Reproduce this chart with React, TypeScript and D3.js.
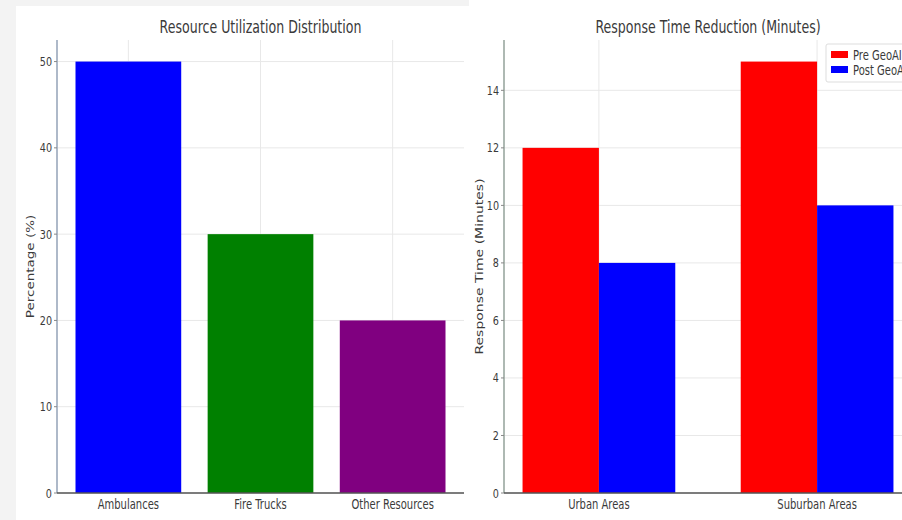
import React from "react";
import * as d3 from "d3";

// Resource utilization (left panel)
const resourceCategories = ["Ambulances", "Fire Trucks", "Other Resources"];
const resourceShares = [50, 30, 20];
const resourceColors = ["#0000ff", "#008000", "#800080"];
const shareTicks = [0, 10, 20, 30, 40, 50];

// Response time before / after GeoAI (right panel)
const areaCategories = ["Urban Areas", "Suburban Areas"];
const preGeoAI = [12, 15];
const postGeoAI = [8, 10];
const seriesNames = ["Pre GeoAI", "Post GeoAI"];
const seriesColors = ["#ff0000", "#0000ff"];
const minuteTicks = [0, 2, 4, 6, 8, 10, 12, 14];

const W = 902;
const H = 520;
const SX = 0.74; // horizontal squeeze applied to all glyphs
const FONT = "'DejaVu Sans', sans-serif";
const TEXT = "#3a3a3a";
const GRID = "#e8e8e8";

type TProps = {
  x: number;
  y: number;
  size: number;
  anchor?: "start" | "middle" | "end";
  vertical?: boolean;
  fill?: string;
  baseline?: string;
  children: React.ReactNode;
};

function T({ x, y, size, anchor = "middle", vertical = false, fill = TEXT, baseline, children }: TProps) {
  const tf = vertical
    ? `translate(${x},${y}) rotate(-90) scale(1,${SX})`
    : `translate(${x},${y}) scale(${SX},1)`;
  return (
    <text
      transform={tf}
      fontSize={size}
      fontFamily={FONT}
      textAnchor={anchor}
      dominantBaseline={baseline}
      fill={fill}
    >
      {children}
    </text>
  );
}

const top = 40;
const bottom = 493;

function ResourcePanel() {
  const x = d3.scaleLinear().domain([-0.54, 2.54]).range([57, 464]);
  const y = d3.scaleLinear().domain([0, 52.5]).range([bottom, top]);
  const bw = x(0.4) - x(-0.4);
  const [x0, x1] = x.range();
  return (
    <g>
      {shareTicks.map((t) => (
        <line key={"h" + t} x1={x0} x2={x1} y1={y(t)} y2={y(t)} stroke={GRID} strokeWidth={1} />
      ))}
      {resourceCategories.map((c, i) => (
        <line key={"v" + c} x1={x(i)} x2={x(i)} y1={top} y2={bottom} stroke={GRID} strokeWidth={1} />
      ))}
      {resourceCategories.map((c, i) => (
        <rect
          key={c}
          x={x(i) - bw / 2}
          y={y(resourceShares[i])}
          width={bw}
          height={y(0) - y(resourceShares[i])}
          fill={resourceColors[i]}
        />
      ))}
      <line x1={x0} x2={x0} y1={top} y2={bottom} stroke="#9aa8bc" strokeWidth={1.6} />
      <line x1={x0} x2={x1} y1={bottom} y2={bottom} stroke="#555" strokeWidth={1.3} />
      {shareTicks.map((t) => (
        <g key={"t" + t}>
          <line x1={x0 - 3} x2={x0} y1={y(t)} y2={y(t)} stroke="#888" strokeWidth={1} />
          <T x={x0 - 5} y={y(t)} size={13} anchor="end" baseline="central">
            {t}
          </T>
        </g>
      ))}
      {resourceCategories.map((c, i) => (
        <T key={"l" + c} x={x(i)} y={509} size={13.5}>
          {c}
        </T>
      ))}
      <T x={(x0 + x1) / 2} y={33} size={17}>
        Resource Utilization Distribution
      </T>
      <T x={34} y={(top + bottom) / 2} size={13.5} vertical>
        Percentage (%)
      </T>
    </g>
  );
}

function ResponsePanel() {
  const x = d3.scaleLinear().domain([-0.435, 1.435]).range([504, 912]);
  const y = d3.scaleLinear().domain([0, 15.75]).range([bottom, top]);
  const barW = 0.35;
  const bw = x(barW) - x(0);
  const [x0, x1] = x.range();
  const series = [preGeoAI, postGeoAI];
  return (
    <g>
      {minuteTicks.map((t) => (
        <line key={"h" + t} x1={x0} x2={x1} y1={y(t)} y2={y(t)} stroke={GRID} strokeWidth={1} />
      ))}
      {areaCategories.map((c, i) => (
        <line key={"v" + c} x1={x(i)} x2={x(i)} y1={top} y2={bottom} stroke={GRID} strokeWidth={1} />
      ))}
      {series.map((vals, s) =>
        vals.map((v, i) => (
          <rect
            key={s + "-" + i}
            x={x(i + (s === 0 ? -barW : 0))}
            y={y(v)}
            width={bw}
            height={y(0) - y(v)}
            fill={seriesColors[s]}
          />
        ))
      )}
      <line x1={x0} x2={x0} y1={top} y2={bottom} stroke="#9aa8a0" strokeWidth={1.6} />
      <line x1={x0} x2={x1} y1={bottom} y2={bottom} stroke="#555" strokeWidth={1.3} />
      {minuteTicks.map((t) => (
        <g key={"t" + t}>
          <line x1={x0 - 3} x2={x0} y1={y(t)} y2={y(t)} stroke="#888" strokeWidth={1} />
          <T x={x0 - 5} y={y(t)} size={13} anchor="end" baseline="central">
            {t}
          </T>
        </g>
      ))}
      {areaCategories.map((c, i) => (
        <T key={"l" + c} x={x(i)} y={509} size={13.5}>
          {c}
        </T>
      ))}
      <T x={(x0 + x1) / 2} y={33} size={17}>
        Response Time Reduction (Minutes)
      </T>
      <T x={483} y={(top + bottom) / 2} size={14} vertical>
        Response Time (Minutes)
      </T>
      {/* legend */}
      <g>
        <rect x={826} y={44} width={120} height={38} rx={2} fill="#fff" fillOpacity={0.85} stroke="#ddd" />
        {seriesNames.map((n, s) => (
          <g key={n}>
            <rect x={831} y={51 + s * 15} width={17} height={7} fill={seriesColors[s]} />
            <T x={853} y={55 + s * 15} size={13.5} anchor="start" baseline="central">
              {n}
            </T>
          </g>
        ))}
      </g>
    </g>
  );
}

export default function App() {
  return (
    <svg
      width={W}
      height={H}
      viewBox={`0 0 ${W} ${H}`}
      style={{ position: "absolute", left: 0, top: 0, display: "block" }}
    >
      <rect x={0} y={0} width={W} height={H} fill="#f3f3f3" />
      <rect x={16} y={6} width={453} height={H - 6} fill="#fff" />
      <rect x={469} y={0} width={W - 469} height={H} fill="#fff" />
      <ResourcePanel />
      <ResponsePanel />
    </svg>
  );
}
